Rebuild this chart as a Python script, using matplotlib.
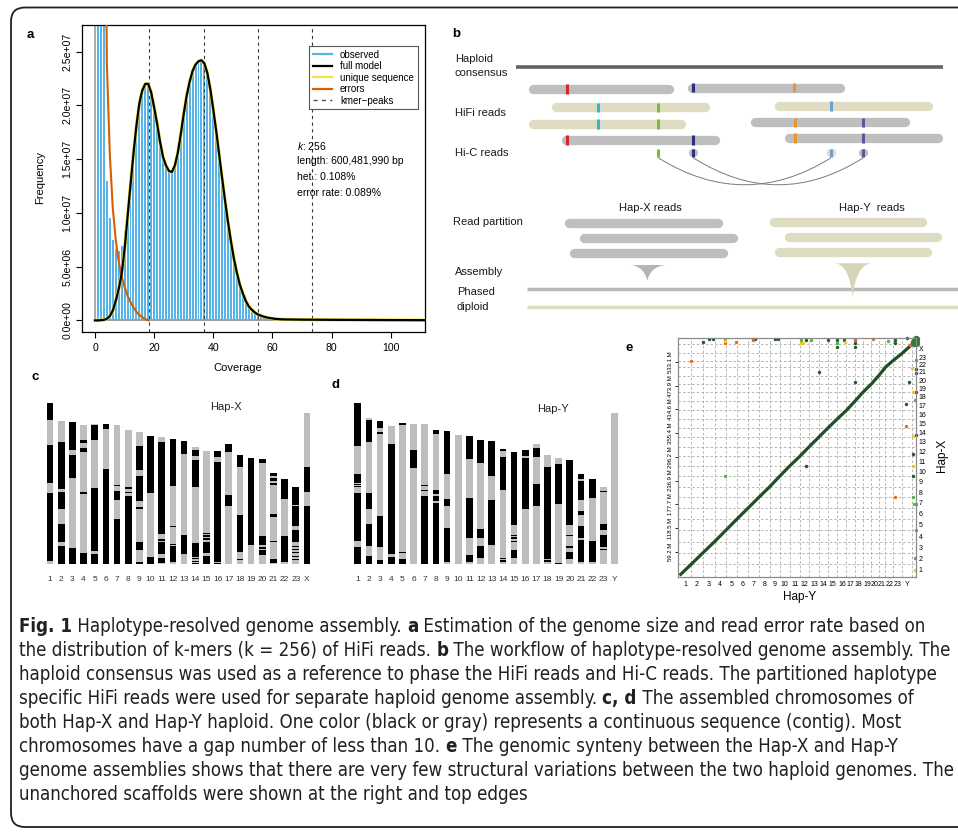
import matplotlib.pyplot as plt
import numpy as np
from matplotlib import font_manager as fm
from matplotlib.lines import Line2D
from matplotlib.patches import FancyBboxPatch, PathPatch
from matplotlib.path import Path

plt.rcParams["font.family"] = ["Liberation Sans", "DejaVu Sans"]
plt.rcParams["mathtext.fontset"] = "custom"
plt.rcParams["mathtext.it"] = "Liberation Sans:italic"
plt.rcParams["mathtext.rm"] = "Liberation Sans"

W, H = 958, 833
INK = "#231F20"
GREY_READ = "#BEBEBE"
BEIGE = "#DEDDC1"

# ---------------- panel a: GenomeScope k-mer profile ----------------
obs_cov = np.arange(1, 81)
obs_freq = np.array([
    150, 80, 45, 13, 9.5, 7.5, 6.6, 6.5, 6.9, 8.3,
    10.1, 12.3, 14.7, 17.6, 19.8, 21.2, 21.8, 21.9, 21.3, 20.0,
    18.4, 16.8, 15.3, 14.4, 13.9, 13.8, 14.3, 15.5, 17.2, 19.1,
    20.8, 22.1, 23.1, 23.8, 24.1, 24.1, 23.8, 22.9, 21.5, 19.6,
    17.6, 15.4, 13.2, 11.1, 9.1, 7.3, 5.8, 4.5, 3.4, 2.6,
    1.9, 1.4, 1.05, 0.8, 0.6, 0.48, 0.38, 0.3, 0.25, 0.2,
    0.17, 0.15, 0.13, 0.12, 0.11, 0.1, 0.1, 0.09, 0.09, 0.08,
    0.08, 0.07, 0.07, 0.06, 0.06, 0.06, 0.05, 0.05, 0.05, 0.04,
]) * 1e6
model_cov = list(range(0, 65)) + [70, 80, 90, 100, 112]
model_freq = np.array([
    0, 0, 0.02, 0.05, 0.15, 0.4, 0.9, 1.8, 2.9, 4.3,
    6.6, 9.6, 12.6, 15.5, 18.1, 20.2, 21.4, 22.0, 22.0, 21.2,
    19.8, 18.3, 16.6, 15.2, 14.4, 13.9, 13.8, 14.4, 15.6, 17.3,
    19.2, 20.9, 22.2, 23.2, 23.8, 24.1, 24.2, 23.9, 23.0, 21.5,
    19.6, 17.6, 15.4, 13.2, 11.1, 9.1, 7.3, 5.7, 4.4, 3.3,
    2.5, 1.8, 1.3, 1.0, 0.75, 0.56, 0.45, 0.35, 0.28, 0.22,
    0.18, 0.14, 0.12, 0.1, 0.09,
    0.07, 0.05, 0.04, 0.03, 0.02,
]) * 1e6
unique_freq = model_freq
err_cov = [3, 4, 5, 6, 7, 8, 9, 10, 11, 12, 13, 14, 15, 16, 17, 18]
err_freq = np.array([60, 24, 15.5, 10.5, 7.5, 5.5, 4.1, 3.1, 2.3, 1.7, 1.2, 0.8, 0.5, 0.3, 0.12, 0.0]) * 1e6
kmer_peaks = [18.35, 36.7, 55.05, 73.4]
gs_stats = ["$k$: 256", "length: 600,481,990 bp", "het.: 0.108%", "error rate: 0.089%"]

# ---------------- panel b: workflow schematic (diagram units = px) ----------------
consensus = (516, 942.7, 66.7)
hifi_reads = [
    (528.3, 673.3, 89.0, GREY_READ), (687.3, 845.0, 87.7, GREY_READ),
    (551.7, 709.3, 107.3, BEIGE), (774.0, 932.7, 106.0, BEIGE),
    (528.3, 686.0, 124.0, BEIGE), (750.7, 909.3, 122.3, GREY_READ),
    (561.7, 719.3, 140.0, GREY_READ), (784.3, 942.7, 138.0, GREY_READ),
]
snp_x = [567.3, 693.3, 794.3, 598.3, 658.3, 831.0, 598.3, 658.3, 795.3, 863.3, 567.3, 693.3, 795.3, 863.3]
snp_y = [89.0, 87.7, 87.7, 107.3, 107.3, 106.0, 124.0, 124.0, 122.3, 122.3, 140.0, 140.0, 138.0, 138.0]
snp_c = ["#D7262A", "#2B2F7F", "#E8962B", "#2BB9D9", "#7DBA3C", "#6A9FD8",
         "#2BB9D9", "#7DBA3C", "#E8962B", "#6A4FA0", "#D7262A", "#2B2F7F", "#E8962B", "#6A4FA0"]
hic_reads = [  # x0, x1, marker x, marker colour, read colour
    (656.7, 665.0, 658.3, "#7DBA3C", BEIGE),
    (690.0, 697.3, 693.3, "#2B2F7F", GREY_READ),
    (827.7, 835.0, 831.0, "#6A9FD8", BEIGE),
    (859.3, 867.7, 863.3, "#6A4FA0", GREY_READ),
]
hic_y = 153.3
hic_links = [(658.3, 831.0), (693.3, 863.3)]
part_reads = [
    (564.3, 722.7, 223.3, GREY_READ), (579.3, 737.7, 238.3, GREY_READ), (569.3, 727.7, 252.7, GREY_READ),
    (769.0, 926.7, 222.3, BEIGE), (784.0, 941.7, 237.3, BEIGE), (774.0, 931.7, 251.7, BEIGE),
]
phased = [(526.7, 960, 289.3, "#B9B9B9"), (526.7, 960, 307.3, "#DEDDC1")]

# ---------------- panels c, d: chromosome contigs (Mb, black contigs from chromosome top) ----------------
hapx_names = [str(i) for i in range(1, 24)] + ["X"]
hapy_names = [str(i) for i in range(1, 24)] + ["Y"]
hapx_len = [32.3, 28.7, 28.5, 27.9, 28.1, 28.1, 27.9, 26.9, 26.5, 25.7, 25.5, 25.1,
            24.7, 23.4, 22.7, 22.7, 24.1, 21.9, 21.3, 21.0, 18.2, 17.1, 15.5, 30.3]
hapx_black = [
    [(0, 3.5), (8.5, 16.1), (18.0, 31.7)],
    [(4.3, 13.7), (14.3, 17.7), (20.7, 24.3), (25.1, 28.7)],
    [(0, 5.7), (6.7, 11.2), (25.2, 28.5)],
    [(3.1, 3.7), (4.7, 5.5), (13.4, 13.8), (25.7, 27.9)],
    [(0.3, 3.2), (12.9, 25.5), (26.1, 28.1)],
    [(0, 1.0), (9.0, 28.1)],
    [(12.0, 12.3), (13.3, 15.1), (18.9, 27.9)],
    [(11.5, 11.9), (12.4, 12.7), (13.2, 26.9)],
    [(2.9, 7.7), (8.8, 13.8), (15.0, 15.4), (22.0, 23.7), (26.0, 26.5)],
    [(0, 11.4), (24.2, 25.7)],
    [(1.0, 19.5), (20.5, 20.8), (21.1, 23.5), (24.3, 25.2)],
    [(0, 9.4), (17.5, 17.7), (21.0, 21.3), (21.4, 24.7)],
    [(0, 2.7), (18.9, 22.7)],
    [(0.5, 1.7), (2.5, 8.0), (18.1, 18.2), (19.1, 21.9), (22.2, 22.4), (22.7, 22.9), (23.1, 23.4)],
    [(16.4, 16.7), (16.9, 17.2), (17.5, 17.9), (18.3, 20.4), (21.0, 22.7)],
    [(0, 1.3), (2.2, 22.2), (22.4, 22.7)],
    [(0, 1.7), (10.3, 12.4)],
    [(0, 2.5), (12.0, 19.5), (20.9, 21.1)],
    [(0, 17.5)],
    [(0, 0.7), (15.3, 17.1), (17.5, 17.9), (18.1, 19.1)],
    [(0, 0.5), (0.9, 1.5), (2.0, 2.3), (8.2, 8.7), (13.5, 13.8), (17.1, 17.9)],
    [(0, 4.0), (11.5, 16.6)],
    [(0, 3.6), (3.9, 7.8), (8.7, 11.1), (11.8, 12.1), (12.5, 12.7), (13.1, 13.3), (13.8, 14.1), (14.5, 14.7)],
    [(10.8, 15.8), (18.7, 30.3)],
]
hapy_len = [32.2, 29.2, 28.7, 27.7, 28.3, 28.1, 28.1, 26.9, 26.7, 25.8, 25.7, 24.8,
            24.7, 23.1, 22.5, 22.9, 24.0, 21.9, 21.2, 20.9, 18.1, 17.1, 15.5, 30.2]
hapy_black = [
    [(0, 8.5), (14.1, 16.0), (16.1, 16.3), (16.5, 16.7), (17.9, 27.5), (28.7, 32.2)],
    [(0.3, 4.7), (14.9, 18.2), (21.1, 25.5), (27.5, 29.2)],
    [(0, 1.5), (2.3, 2.6), (19.1, 25.3), (27.8, 28.7)],
    [(3.7, 25.7), (26.2, 27.7)],
    [(0, 0.5), (25.8, 26.0), (27.3, 28.3)],
    [(5.3, 8.9)],
    [(12.2, 12.5), (13.2, 13.5), (14.5, 28.1)],
    [(0, 0.8), (12.0, 12.8), (13.3, 14.3), (14.7, 26.9)],
    [(0, 8.6), (13.7, 15.1), (19.5, 26.3)],
    [],
    [(0, 4.7), (12.5, 20.5), (20.8, 20.9), (23.8, 25.3)],
    [(0, 4.6), (17.7, 19.6), (21.1, 23.5)],
    [(0, 7.0), (11.8, 20.9)],
    [(0, 0.5), (1.7, 8.2), (18.4, 18.5), (21.9, 22.1), (22.3, 22.7)],
    [(0, 14.7), (16.6, 16.8), (17.1, 17.4), (17.8, 18.1), (19.7, 21.3)],
    [(0, 1.3), (1.7, 11.8)],
    [(0.7, 2.6), (7.9, 12.3)],
    [(2.5, 20.8), (21.1, 21.5)],
    [(1.1, 9.2), (21.0, 21.2)],
    [(0, 13.1), (15.1, 15.2), (17.3, 17.7), (18.4, 19.9)],
    [(0, 1.1), (1.5, 5.3), (7.4, 8.2), (10.5, 12.9), (13.3, 17.7)],
    [(0, 3.9), (12.4, 16.7)],
    [(0.8, 1.1), (7.4, 8.7), (9.7, 12.1), (12.4, 12.7)],
    [],
]

# ---------------- panel e: synteny dot plot (Mb) ----------------
e_hapy_len = [29, 29, 29.3, 28, 27.5, 28.3, 26.8, 27, 25, 25, 25.5, 23.8,
              23.8, 22.8, 23, 23, 20.8, 20, 20.8, 18.8, 16.8, 18.8, 23, 25]
e_hapx_len = [27.8, 28.3, 28.3, 28, 28, 27.8, 26.8, 26.3, 26.3, 25.5, 24.5, 24.3,
              23.8, 22.8, 22.3, 21.5, 22.5, 22.3, 20.3, 21.3, 21, 16.5, 18.5, 22.5]
e_ytick_vals = np.arange(1, 10) * 59.235
e_ytick_labels = ["59.2 M", "118.5 M", "177.7 M", "236.9 M", "296.2 M",
                  "355.4 M", "414.6 M", "473.9 M", "533.1 M"]
dots_dark = [(74.3, 591), (84.3, 591), (57.7, 581.8), (184.3, 591), (188.5, 591), (238.5, 591),
             (246.8, 591), (315.2, 588.5), (371.8, 588.5), (392.7, 588.5), (411, 588.5), (438.5, 588.5),
             (392.7, 570.2), (438.5, 570.2), (438.5, 580.2), (538.5, 588.5), (538.5, 580.2), (567.7, 592.7),
             (349.3, 507.7), (438.5, 482.7), (315.2, 274.3), (565.2, 428.5), (571.8, 482.7), (589.3, 351),
             (583.5, 303.5), (583.5, 248.5), (589.3, 506.8), (589.3, 515.2), (589.3, 458.5), (584.3, 576)]
dots_orange = [(113.5, 588.5), (113.5, 580.2), (140.2, 581.8), (184.3, 588.5), (484.3, 591),
               (438.5, 588.5), (574.3, 576), (27.7, 534.3), (565.2, 373.5), (538.5, 196.8)]
dots_yellow = [(303.5, 580.2), (307.7, 580.2), (413.5, 581.8), (113.5, 584.3), (582.7, 459.3),
               (582.7, 273.5), (582.7, 348.5), (588.5, 13.5), (580.2, 517.7)]
dots_green = [(303.5, 588.5), (327.7, 588.5), (521.8, 584.3), (392.7, 580.2), (589.3, 536.8),
              (589.3, 113.5), (582.7, 196.8), (586, 177.7), (590.2, 177.7), (586.8, 42.7),
              (588.5, 438.5), (113.5, 248.5)]
blob = [(588, 586), (590.5, 590), (585.5, 582), (589.5, 580)]

caption = [
    [("Fig. 1", True), (" Haplotype-resolved genome assembly. ", False), ("a", True),
     (" Estimation of the genome size and read error rate based on", False)],
    [("the distribution of k-mers (k = 256) of HiFi reads. ", False), ("b", True),
     (" The workflow of haplotype-resolved genome assembly. The", False)],
    [("haploid consensus was used as a reference to phase the HiFi reads and Hi-C reads. The partitioned haplotype", False)],
    [("specific HiFi reads were used for separate haploid genome assembly. ", False), ("c, d", True),
     (" The assembled chromosomes of", False)],
    [("both Hap-X and Hap-Y haploid. One color (black or gray) represents a continuous sequence (contig). Most", False)],
    [("chromosomes have a gap number of less than 10. ", False), ("e", True),
     (" The genomic synteny between the Hap-X and Hap-Y", False)],
    [("genome assemblies shows that there are very few structural variations between the two haploid genomes. The", False)],
    [("unanchored scaffolds were shown at the right and top edges", False)],
]


def caption_fonts():
    # prefer a narrow / condensed face for the caption, as in the journal layout
    def narrow(f):
        st = str(f.stretch).lower()
        return ("condensed" in st or "narrow" in f.name.lower() or "condensed" in f.name.lower()
                or (st.isdigit() and int(st) < 500))
    cands = [f for f in fm.fontManager.ttflist if f.style == "normal" and narrow(f)]
    for pref in ["Liberation Sans Narrow", "DejaVu Sans", "Roboto Condensed", "Open Sans Condensed", "Noto Sans"]:
        reg = [f for f in cands if f.name.startswith(pref) and int(f.weight) in (400, "normal")]
        reg = reg or [f for f in cands if f.name.startswith(pref) and 350 <= int(f.weight) <= 450]
        bold = [f for f in cands if f.name.startswith(pref) and int(f.weight) >= 600]
        if reg and bold:
            return fm.FontProperties(fname=reg[0].fname), fm.FontProperties(fname=bold[0].fname)
    return (fm.FontProperties(family="Liberation Sans"),
            fm.FontProperties(family="Liberation Sans", weight="bold"))


CAP_REG, CAP_BOLD = caption_fonts()

fig = plt.figure(figsize=(W / 100, H / 100), dpi=100)


def px_axes(l, t, r, b):
    return fig.add_axes([l / W, 1 - b / H, (r - l) / W, (b - t) / H])


def ptext(x, y, s, **kw):
    return fig.text(x / W, 1 - y / H, s, **kw)


# background canvas: frame + schematic
bg = px_axes(0, 0, W, H)
bg.set_xlim(0, W)
bg.set_ylim(H, 0)
bg.axis("off")
bg.set_zorder(-5)
bg.add_patch(FancyBboxPatch((11, 7.5), 990, 819.5, boxstyle="round,pad=0,rounding_size=14",
                            fill=False, ec=INK, lw=1.3))

# ---- a ----
ax = px_axes(82, 25, 425, 332)
ax.bar(obs_cov, obs_freq, width=0.66, color="#56B4E9", lw=0, zorder=1)
ax.plot([0, 0], [0, 4e7], color="#9C9C9C", lw=1.2, zorder=1.5)
ax.plot([0, 120], [0, 0], color="#9C9C9C", lw=1.4, zorder=1.5)
for p in kmer_peaks:
    ax.axvline(p, color="#3A3A3A", lw=0.8, ls=(0, (3, 3)), zorder=2)
ax.plot(model_cov, unique_freq, color="#F0E442", lw=2.4, zorder=3)
ax.plot(err_cov, err_freq, color="#D55E00", lw=1.5, zorder=3.5)
ax.plot(model_cov, model_freq, color="black", lw=1.6, zorder=4)
ax.set_xlim(-4.4, 111.6)
ax.set_ylim(-1.08e6, 2.748e7)
ax.set_xticks(range(0, 101, 20))
yt = np.arange(0, 2.6e7, 5e6)
ax.set_yticks(yt, [f"{v:.1e}" for v in yt], rotation=90, va="center")
ax.tick_params(direction="out", length=4, width=0.8, labelsize=7.6, pad=3)
ax.tick_params(axis="x", pad=4)
for s in ax.spines.values():
    s.set_linewidth(0.9)
handles = [Line2D([], [], color="#56B4E9", lw=1.6), Line2D([], [], color="black", lw=1.6),
           Line2D([], [], color="#F0E442", lw=1.6), Line2D([], [], color="#D55E00", lw=1.6),
           Line2D([], [], color="#555555", lw=1.0, ls=(0, (3, 3)))]
leg = ax.legend(handles, ["observed", "full model", "unique sequence", "errors", "kmer\u2212peaks"],
                loc="upper right", bbox_to_anchor=(0.979, 0.932), borderaxespad=0, fontsize=7,
                frameon=True, fancybox=False, edgecolor="#555555", framealpha=1,
                borderpad=0.4, labelspacing=0.15, handlelength=2.0, handletextpad=0.8)
leg.get_frame().set_linewidth(0.8)
for i, s in enumerate(gs_stats):
    ptext(296.7, 145.5 + 16 * i, s, fontsize=7.5, va="center", ha="left")
ptext(40, 178, "Frequency", fontsize=8, rotation=90, va="center", ha="center")
ptext(237.5, 368, "Coverage", fontsize=8, va="center", ha="center")

# ---- b ----
R = 4.65


def read_bar(x0, x1, y, color, thick=9.3):
    r = thick / 2
    bg.plot([x0 + r, x1 - r], [y, y], color=color, lw=thick * 0.72, solid_capstyle="round")


bg.plot([consensus[0], consensus[1]], [consensus[2]] * 2, color="#636363", lw=2.6, solid_capstyle="butt")
for x0, x1, y, c in hifi_reads:
    read_bar(x0, x1, y, c)
for x, y, c in zip(snp_x, snp_y, snp_c):
    bg.plot([x, x], [y - R, y + R], color=c, lw=2.2, solid_capstyle="butt")
for x0, x1, mx, mc, rc in hic_reads:
    read_bar(x0, x1, hic_y, rc, thick=8.3)
    bg.plot([mx, mx], [hic_y - 4.1, hic_y + 4.1], color=mc, lw=2.2, solid_capstyle="butt")
for xa, xz in hic_links:
    yy = hic_y + 4.5
    path = Path([(xa, yy), ((xa + xz) / 2, yy + 54), (xz, yy)], [Path.MOVETO, Path.CURVE3, Path.CURVE3])
    bg.add_patch(PathPatch(path, fill=False, ec="#7A7A7A", lw=0.7))
for x0, x1, y, c in part_reads:
    read_bar(x0, x1, y, c)
for x0, x1, y, c in phased:
    bg.plot([x0, x1], [y, y], color=c, lw=2.5, solid_capstyle="butt")
funnels = [((631.7, 665.0, 265.0), (647.3, 280.7), "#B4B4B4"),
           ((835.7, 871.0, 263.3), (852.7, 298.3), "#D6D4B4")]
for (fx0, fx1, fy), (tx, ty), fc in funnels:
    verts = [(fx0, fy), (fx1, fy), (tx + 3, fy + 2), (tx, ty), (tx - 3, fy + 2), (fx0, fy), (fx0, fy)]
    codes = [Path.MOVETO, Path.LINETO, Path.CURVE3, Path.CURVE3, Path.CURVE3, Path.CURVE3, Path.CLOSEPOLY]
    bg.add_patch(PathPatch(Path(verts, codes), fc=fc, ec="none", zorder=3))
btxt = dict(fontsize=8, va="center", color="#1A1A1A")
bg.text(455, 59.3, "Haploid", **btxt)
bg.text(455, 73.3, "consensus", **btxt)
bg.text(455, 112.7, "HiFi reads", **btxt)
bg.text(455, 153.3, "Hi-C reads", **btxt)
bg.text(650.7, 207.7, "Hap-X reads", ha="center", **btxt)
bg.text(872.3, 207.7, "Hap-Y  reads", ha="center", **btxt)
bg.text(452.7, 222.3, "Read partition", **btxt)
bg.text(455, 272.3, "Assembly", **btxt)
bg.text(457, 292.3, "Phased", **btxt)
bg.text(457, 306.7, "diploid", **btxt)


# ---- c, d ----
def chrom_panel(box, xlim, lengths, blacks, names, title, title_xy):
    a = px_axes(*box)
    for i, (L, segs) in enumerate(zip(lengths, blacks)):
        a.bar(i, L, width=0.6, color=GREY_READ, lw=0)
        for s0, s1 in segs:
            a.bar(i, s1 - s0, bottom=L - s1, width=0.6, color="black", lw=0)
    a.set_xlim(*xlim)
    a.set_ylim(0, (box[3] - box[1]) / 5.0)
    a.set_xticks(range(len(names)), names)
    a.set_yticks([])
    a.tick_params(axis="x", length=0, pad=8.5, labelsize=6, labelcolor="#333333")
    for s in a.spines.values():
        s.set_visible(False)
    a.patch.set_alpha(0)
    ptext(title_xy[0], title_xy[1], title, fontsize=8, ha="center", va="center", color="#222222")
    return a


chrom_panel((40, 398, 320, 564.3), (-0.895, 24.17), hapx_len, hapx_black, hapx_names, "Hap-X", (226, 407))
chrom_panel((345, 398, 630, 564.3), (-1.147, 24.39), hapy_len, hapy_black, hapy_names, "Hap-Y", (553, 409))

# ---- e ----
ae = px_axes(678, 338, 916, 577)
xb = np.concatenate([[0], np.cumsum(e_hapy_len)])
yb = np.concatenate([[0], np.cumsum(e_hapx_len)])
for v in xb[1:]:
    ae.axvline(v, color="#ABABAB", lw=0.6, ls=(0, (3, 2.5)), zorder=0)
for v in yb[1:]:
    ae.axhline(v, color="#ABABAB", lw=0.6, ls=(0, (3, 2.5)), zorder=0)
ae.plot(xb, yb, color="#1F4F2A", lw=2.3, zorder=3, solid_capstyle="butt")
for pts, c in [(dots_dark, "#1E5A2C"), (dots_orange, "#E06C1F"), (dots_yellow, "#F5C518"), (dots_green, "#4CB548")]:
    ax_, ay_ = zip(*pts)
    ae.scatter(ax_, ay_, s=6, color=c, lw=0, zorder=4, clip_on=False)
bx, by = zip(*blob)
ae.scatter(bx, by, s=28, color="#2E7D32", lw=0, zorder=4, clip_on=False)
ae.set_xlim(-4.0, 590.5)
ae.set_ylim(-4.0, 593.0)
ae.set_xticks((xb[:-1] + xb[1:]) / 2, hapy_names)
ae.set_yticks(e_ytick_vals, e_ytick_labels, rotation=90, va="center")
ae.tick_params(axis="x", length=0, pad=3, labelsize=5)
ae.tick_params(axis="y", length=2.2, width=0.6, pad=1.5, labelsize=4.3)
ar = ae.twinx()
ar.set_ylim(ae.get_ylim())
ar.set_yticks((yb[:-1] + yb[1:]) / 2, hapx_names)
ar.tick_params(axis="y", length=0, pad=2, labelsize=5)
for a in (ae, ar):
    for s in a.spines.values():
        s.set_color("#8A8A8A")
        s.set_linewidth(0.8)
ptext(800, 597, "Hap-Y", fontsize=8.5, ha="center", va="center")
ptext(941.7, 455, "Hap-X", fontsize=8.5, ha="center", va="center", rotation=90)

# panel letters
for lab, x, y in [("a", 26.5, 35), ("b", 451.7, 34), ("c", 31.7, 377), ("d", 332, 385), ("e", 626, 348)]:
    ptext(x, y, lab, fontsize=9.5, fontweight="bold", ha="left", va="center")

# ---- caption ----
rend = fig.canvas.get_renderer()


def seg_width(s, size, bold):
    fp = (CAP_BOLD if bold else CAP_REG).copy()
    fp.set_size(size)
    t1 = fig.text(0, 0, "|" + s + "|", fontproperties=fp)
    t2 = fig.text(0, 0, "||", fontproperties=fp)
    w = t1.get_window_extent(rend).width - t2.get_window_extent(rend).width
    t1.remove()
    t2.remove()
    return w


ref_w = sum(seg_width(s, 10, b) for s, b in caption[1])
cap_size = 10 * 933 / ref_w
for i, line in enumerate(caption):
    x = 19.0
    y = 632 + 24 * i
    for s, b in line:
        fp = (CAP_BOLD if b else CAP_REG).copy()
        fp.set_size(cap_size)
        ptext(x, y, s, fontproperties=fp, va="baseline", ha="left", color=INK)
        x += seg_width(s, cap_size, b)

fig.savefig("out.png", dpi=100)
